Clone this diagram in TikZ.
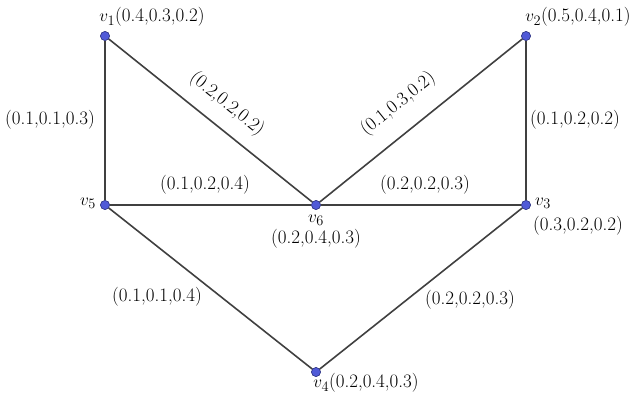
\documentclass[tikz,border=0pt]{standalone}
\begin{document}
\begin{tikzpicture}[x=1pt,y=-1pt,
  vtx/.style={circle,fill=vblue,draw=vblue!60!black,line width=0.5pt,inner sep=0pt,minimum size=9pt},
  edge/.style={draw=black!75,line width=1.6pt},
  lab/.style={font=\fontsize{19}{22}\selectfont,inner sep=1pt},
  ]
\definecolor{vblue}{RGB}{80,90,215}
\useasboundingbox (0,0) rectangle (630,394);
\node[vtx] (v1) at (105,36) {};
\node[vtx] (v2) at (526,36) {};
\node[vtx] (v5) at (105,205) {};
\node[vtx] (v6) at (316,205) {};
\node[vtx] (v3) at (526,205) {};
\node[vtx] (v4) at (316,372) {};
\draw[edge] (v1) -- (v5);
\draw[edge] (v1) -- (v6);
\draw[edge] (v2) -- (v6);
\draw[edge] (v2) -- (v3);
\draw[edge] (v5) -- (v6);
\draw[edge] (v6) -- (v3);
\draw[edge] (v5) -- (v4);
\draw[edge] (v4) -- (v3);
\node[vtx] at (v1) {};
\node[vtx] at (v2) {};
\node[vtx] at (v5) {};
\node[vtx] at (v6) {};
\node[vtx] at (v3) {};
\node[vtx] at (v4) {};
% vertex labels
\node[lab] (l1) at (152,17) {$v_1$(0.4,0.3,0.2)};
\node[lab] (l2) at (578,17) {$v_2$(0.5,0.4,0.1)};
\node[lab] (l5) at (88,203) {$v_5$};
\node[lab] (l6a) at (316,220) {$v_6$};
\node[lab] (l6b) at (316,239) {(0.2,0.4,0.3)};
\node[lab] (l3a) at (543,203) {$v_3$};
\node[lab] (l3b) at (578,226) {(0.3,0.2,0.2)};
\node[lab] (l4) at (366,383) {$v_4$(0.2,0.4,0.3)};
% edge labels
\node[lab] (e15) at (50,120) {(0.1,0.1,0.3)};
\node[lab] (e23) at (575,120) {(0.1,0.2,0.2)};
\node[lab] (e56) at (205,185) {(0.1,0.2,0.4)};
\node[lab] (e63) at (425,185) {(0.2,0.2,0.3)};
\node[lab,rotate=-38.7] (e16) at (227,104) {(0.2,0.2,0.2)};
\node[lab,rotate=38.7] (e26) at (398,104) {(0.1,0.3,0.2)};
\node[lab] (e54) at (157,297) {(0.1,0.1,0.4)};
\node[lab] (e43) at (470,300) {(0.2,0.2,0.3)};
\end{tikzpicture}
\end{document}
